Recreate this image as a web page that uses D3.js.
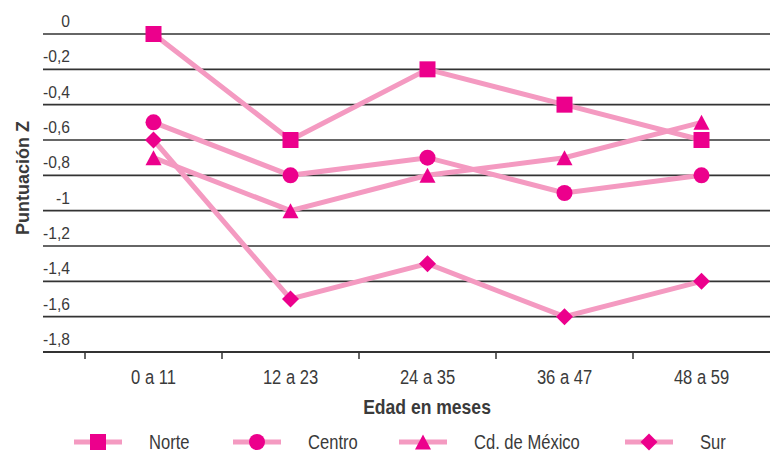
<!DOCTYPE html>
<html><head><meta charset="utf-8">
<script src="https://cdn.jsdelivr.net/npm/d3@7"></script>
<style>
html,body{margin:0;padding:0;background:#fff;}
svg text{font-family:"Liberation Sans Narrow","Liberation Sans",sans-serif;fill:#3a3a3a;}
</style></head>
<body>
<svg id="c" width="773" height="456"></svg>
<script>
const categories = ["0 a 11","12 a 23","24 a 35","36 a 47","48 a 59"];
const seriesNames = ["Norte","Centro","Cd. de México","Sur"];
const norte  = [0, -0.6, -0.2, -0.4, -0.6];
const centro = [-0.5, -0.8, -0.7, -0.9, -0.8];
const cdmx   = [-0.7, -1.0, -0.8, -0.7, -0.5];
const sur    = [-0.6, -1.5, -1.3, -1.6, -1.4];
const yTicks = [0,-0.2,-0.4,-0.6,-0.8,-1,-1.2,-1.4,-1.6,-1.8];
const yTickLabels = ["0","-0,2","-0,4","-0,6","-0,8","-1","-1,2","-1,4","-1,6","-1,8"];

const series = [norte, centro, cdmx, sur];
const lineColor = "#f49ac1", markColor = "#ec008c";

// marker shapes (centered on bounding box)
function markerPath(k) {
  const p = d3.path();
  if (k === 0) { p.rect(-8, -8, 16, 16); }
  else if (k === 1) { p.arc(0, 0, 8, 0, 2 * Math.PI); }
  else if (k === 2) { p.moveTo(0, -7.5); p.lineTo(8, 7.5); p.lineTo(-8, 7.5); p.closePath(); }
  else { p.moveTo(0, -8.5); p.lineTo(8.5, 0); p.lineTo(0, 8.5); p.lineTo(-8.5, 0); p.closePath(); }
  return p.toString();
}

const svg = d3.select("#c");
const x = d3.scaleBand().domain(categories).range([85, 770]);
const y = d3.scaleLinear().domain([-1.8, 0]).range([352, 34]);
const cx = c => x(c) + x.bandwidth() / 2;
const condensed = 0.85;

// gridlines
svg.append("g").selectAll("line").data(yTicks.slice(0, -1)).join("line")
  .attr("x1", 43).attr("x2", 770)
  .attr("y1", d => y(d)).attr("y2", d => y(d))
  .attr("stroke", "#333").attr("stroke-width", 1.6);

// y labels
svg.append("g").selectAll("text").data(yTicks).join("text")
  .attr("transform", d => `translate(70,${y(d) - 7}) scale(0.92,1)`)
  .attr("text-anchor", "end").attr("font-size", 17)
  .text((d, i) => yTickLabels[i]);

// x axis
const gx = svg.append("g").attr("transform", `translate(0,${y(-1.8)})`);
gx.append("line").attr("x1", 43).attr("x2", 770).attr("y1", 0).attr("y2", 0)
  .attr("stroke", "#333").attr("stroke-width", 2.2);
gx.selectAll("line.tk").data(categories).join("line").attr("class","tk")
  .attr("x1", d => x(d)).attr("x2", d => x(d)).attr("y1", 0).attr("y2", 7)
  .attr("stroke", "#333").attr("stroke-width", 1.5);
gx.selectAll("text.tl").data(categories).join("text").attr("class","tl")
  .attr("transform", d => `translate(${cx(d)},32) scale(${condensed},1)`)
  .attr("text-anchor", "middle").attr("font-size", 19.5)
  .text(d => d);

// titles
svg.append("text").attr("transform", "translate(427,414) scale(0.9,1)").attr("text-anchor", "middle")
  .attr("font-size", 19.5).attr("font-weight", "bold").text("Edad en meses");
svg.append("text").attr("transform", "translate(29,178) rotate(-90)")
  .attr("text-anchor", "middle").attr("font-size", 18).attr("font-weight", "bold")
  .text("Puntuación Z");

// lines
const line = d3.line().x((d, i) => cx(categories[i])).y(d => y(d));
series.forEach(s => {
  svg.append("path").datum(s).attr("d", line).attr("fill", "none")
    .attr("stroke", lineColor).attr("stroke-width", 5);
});
series.forEach((s, k) => {
  svg.append("g").selectAll("path").data(s).join("path")
    .attr("transform", (d, i) => `translate(${cx(categories[i])},${y(d)})`)
    .attr("d", markerPath(k))
    .attr("fill", markColor);
});

// legend
const legX = [74, 233, 399, 625];
const legY = 442;
seriesNames.forEach((name, k) => {
  const g = svg.append("g").attr("transform", `translate(${legX[k]},${legY})`);
  g.append("line").attr("x1", 0).attr("x2", 48).attr("y1", 0).attr("y2", 0)
    .attr("stroke", lineColor).attr("stroke-width", 5);
  g.append("path").attr("transform", "translate(24,0)")
    .attr("d", markerPath(k)).attr("fill", markColor);
  g.append("text").attr("transform", `translate(75,7) scale(${condensed},1)`)
    .attr("font-size", 19.5).text(name);
});
</script>
</body></html>
